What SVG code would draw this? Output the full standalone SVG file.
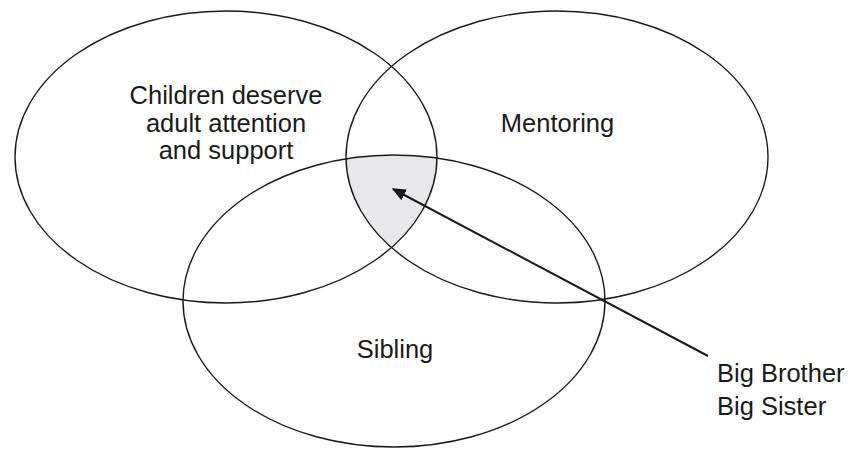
<svg xmlns="http://www.w3.org/2000/svg" width="850" height="450" viewBox="0 0 850 450">
  <style>
    .ring { fill: none; stroke: #1a1a1a; stroke-width: 1.4; }
    .label { font-family: "Liberation Sans", Arial, sans-serif; font-size: 25.5px; fill: #1a1a1a; }
    .mid { text-anchor: middle; }
    .conn { stroke: #1a1a1a; stroke-width: 2; fill: none; }
  </style>
  <defs>
    <clipPath id="clipL"><ellipse cx="226" cy="157" rx="211" ry="146"/></clipPath>
    <clipPath id="clipR"><ellipse cx="557" cy="157" rx="211" ry="146"/></clipPath>
    <marker id="arrow" viewBox="0 0 10 10" refX="9" refY="5" markerWidth="14" markerHeight="12" markerUnits="userSpaceOnUse" orient="auto" preserveAspectRatio="none">
      <path d="M0,0 L10,5 L0,10 z" fill="#1a1a1a"/>
    </marker>
  </defs>
  <rect width="850" height="450" fill="#ffffff"/>
  <g id="overlap">
    <g clip-path="url(#clipL)">
      <g clip-path="url(#clipR)">
        <ellipse cx="394" cy="301" rx="211" ry="146" fill="#e8e8ea"/>
      </g>
    </g>
  </g>
  <g id="children">
    <ellipse class="ring" cx="226" cy="157" rx="211" ry="146"/>
    <text class="label mid" x="226" y="104">Children deserve</text>
    <text class="label mid" x="226" y="131.5">adult attention</text>
    <text class="label mid" x="226" y="159">and support</text>
  </g>
  <g id="mentoring">
    <ellipse class="ring" cx="557" cy="157" rx="211" ry="146"/>
    <text class="label mid" x="557.5" y="132">Mentoring</text>
  </g>
  <g id="sibling">
    <ellipse class="ring" cx="394" cy="301" rx="211" ry="146"/>
    <text class="label mid" x="395" y="358">Sibling</text>
  </g>
  <g id="connectors">
    <line class="conn" x1="708" y1="356" x2="393" y2="189" marker-end="url(#arrow)"/>
  </g>
  <g id="bigbrother">
    <text class="label" x="717" y="381.5">Big Brother</text>
    <text class="label" x="717" y="415">Big Sister</text>
  </g>
</svg>
